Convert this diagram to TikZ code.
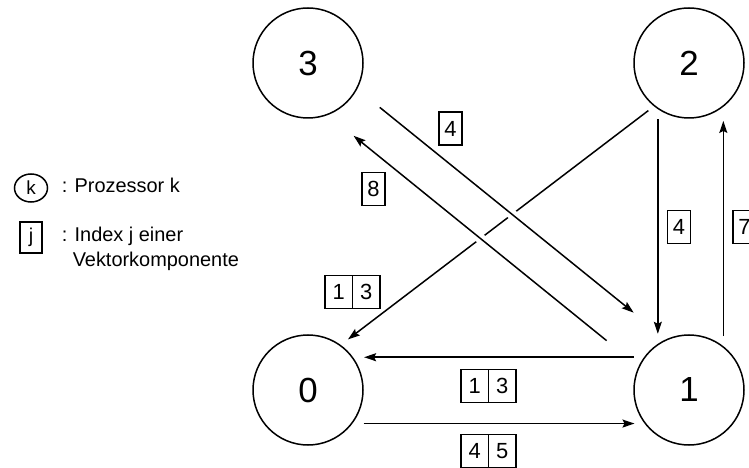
\documentclass[tikz,border=0pt]{standalone}
\usepackage{fontspec}
\setmainfont{Liberation Sans}
\usetikzlibrary{arrows.meta}
\usetikzlibrary{positioning}
\usetikzlibrary{shapes}

\begin{document}
\begin{tikzpicture}[x=1bp,y=-1bp,line width=1.5bp,
  proc/.style={draw,circle,minimum size=110bp,inner sep=0pt,font=\fontsize{35}{42}\selectfont},
  idx/.style={draw,rectangle,minimum width=23bp,minimum height=33bp,inner sep=0pt,outer sep=0pt,font=\fontsize{22}{26}\selectfont},
  pair/.style={idx,minimum width=27.5bp},
  legtext/.style={anchor=base west,inner sep=0pt,font=\fontsize{20}{25}\selectfont},
  msg/.style={-{Stealth[length=12bp,width=8bp,inset=2bp]}},
  over/.style={preaction={draw=white,line width=10bp,-}}]
  \useasboundingbox (0,0) rectangle (749,468);

  \node[proc] (p3) at (308,63) {3};
  \node[proc] (p2) at (689,63) {2};
  \node[proc] (p0) at (308,390) {0};
  \node[proc] (p1) at (689,390) {1};

  % legend
  \node[draw,ellipse,minimum width=33bp,minimum height=28bp,inner sep=0pt,font=\fontsize{19}{22}\selectfont] (lk) at (31,188) {k};
  \node[legtext] (tk) at (61,193) {: Prozessor k};
  \node[idx,minimum width=22bp,minimum height=31bp,font=\fontsize{20}{25}\selectfont] (lj) at (31,237.5) {j};
  \node[legtext] (tj) at (61,242) {: Index j einer};
  \node[legtext] (tv) at (72,267) {Vektorkomponente};

  % messages
  \draw[msg,shorten <=7bp,shorten >=9bp] (p2.-129) -- (p0.54);
  \draw[msg,over,shorten <=29bp,shorten >=42bp] (p3.-28) -- (p1.114);
  \draw[msg,over,shorten <=41bp,shorten >=33bp] (p1.155) -- (p3.-69);
  \draw[msg,shorten <=10bp,shorten >=11bp] (p1.144) -- (p0.36);
  \draw[msg,shorten <=11bp,shorten >=10bp] (p0.-37) -- (p1.-143);
  \draw[msg,shorten <=10bp,shorten >=10bp] (p2.-124) -- (p1.124);
  \draw[msg,shorten <=10bp,shorten >=14bp] (p1.52) -- (p2.-52);

  % vector components
  \node[idx] (i4d) at (450.5,128.5) {4};
  \node[idx] (i8) at (373.5,189) {8};
  \node[idx] (i4v) at (679,227) {4};
  \node[idx] (i7) at (744.5,227) {7};
  \node[pair] (i1a) at (338.75,292) {1};
  \node[pair,right=0pt of i1a] (i3a) {3};
  \node[pair] (i1b) at (474.75,386) {1};
  \node[pair,right=0pt of i1b] (i3b) {3};
  \node[pair] (i4b) at (474.75,451) {4};
  \node[pair,right=0pt of i4b] (i5b) {5};
\end{tikzpicture}
\end{document}
